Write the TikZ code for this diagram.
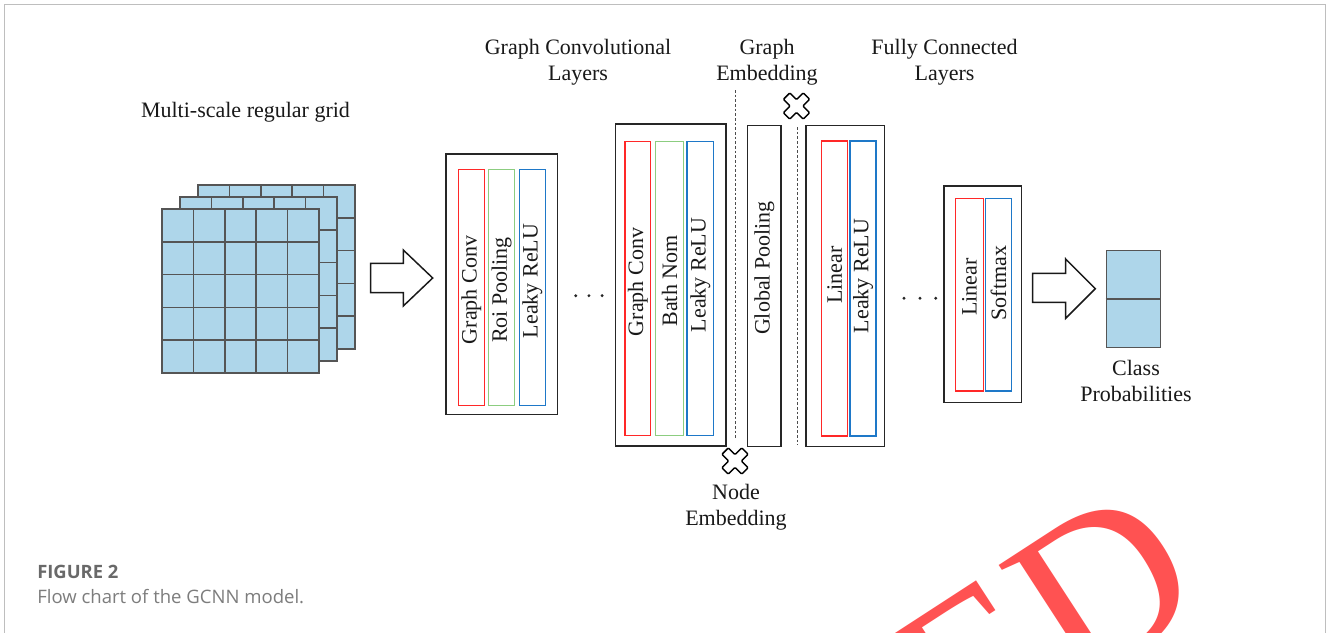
\documentclass[tikz,border=0pt]{standalone}
\usepackage{fontspec}
\setmainfont{Liberation Serif}
\newfontfamily\capfont{Open Sans}
\usetikzlibrary{fit}
\definecolor{gridblue}{RGB}{174,214,234}
\definecolor{gridline}{RGB}{85,85,85}
\definecolor{cred}{RGB}{255,40,40}
\definecolor{cgreen}{RGB}{140,205,128}
\definecolor{cblue}{RGB}{30,120,200}
\definecolor{framegray}{RGB}{190,190,190}
\definecolor{capgray}{RGB}{105,105,105}
\definecolor{capgray2}{RGB}{125,125,125}
\definecolor{wmred}{RGB}{255,82,82}
\tikzset{
  lbl/.style={font=\fontsize{16.5}{19.5}\selectfont, inner sep=0, anchor=base, text=black!90},
  vlbl/.style={font=\fontsize{16.5}{19.5}\selectfont, inner sep=0, rotate=90, text=black!90},
  outerbox/.style={draw=black!85, line width=1.1pt, inner sep=0},
  redbox/.style={draw=cred, line width=1pt, inner sep=0},
  greenbox/.style={draw=cgreen, line width=1pt, inner sep=0},
  bluebox/.style={draw=cblue, line width=1pt, inner sep=0},
  gridstroke/.style={draw=gridline, line width=1.1pt},
  hollowarrow/.style={draw=black!90, line width=1.1pt, fill=white, line join=miter},
  sepline/.style={draw=black!70, line width=0.6pt, dash pattern=on 2pt off 1.5pt},
  dotmark/.style={fill=black!85},
  xmark/.pic={\draw[line width=1.1pt, fill=white, rotate=45, rounded corners=0.8pt]
     (4.5,4.5) -- (4.5,14) -- (-4.5,14) -- (-4.5,4.5) -- (-14,4.5) -- (-14,-4.5) -- (-4.5,-4.5)
     -- (-4.5,-14) -- (4.5,-14) -- (4.5,-4.5) -- (14,-4.5) -- (14,4.5) -- cycle;}
}
\begin{document}
\begin{tikzpicture}[x=0.75pt,y=-0.75pt]
\useasboundingbox (0,0) rectangle (1330,632);
\clip (0,0) rectangle (1330,632);
\fill[white] (0,0) rectangle (1330,632);

% frame
\draw[framegray, line width=1.1pt] (4.5,640) -- (4.5,4.5) -- (1325.5,4.5) -- (1325.5,640);

% watermark
\node[text=wmred, font=\fontsize{170}{170}\selectfont, rotate=33, anchor=north east, inner sep=0] (wm) at (1131,480) {ED};

% multi-scale grid
\foreach \ox/\oy in {198/185, 180/197, 162/209} {
  \begin{scope}
  \draw[gridstroke, fill=gridblue] (\ox,\oy) rectangle ++(157,164);
  \foreach \i in {1,...,4} {
    \draw[gridstroke] (\ox+\i*31.4,\oy) -- ++(0,164);
    \draw[gridstroke] (\ox,\oy+\i*32.8) -- ++(157,0);
  }
  \end{scope}
}
\node[lbl] (gridlbl) at (245.5,117) {Multi-scale regular grid};

% arrow 1
\draw[hollowarrow] (370.7,263.3) -- (403.3,263.3) -- (403.3,250) -- (432.7,278) -- (403.3,306) -- (403.3,292.7) -- (370.7,292.7) -- cycle;

% box 1
\node[outerbox, fit={(446,154) (557.7,414.3)}] (b1) {};
\node[redbox, fit={(458.3,169.3) (484.3,405.7)}] (b1r) {};
\node[greenbox, fit={(488.7,169.3) (514.7,405.7)}] (b1g) {};
\node[bluebox, fit={(519.3,169.3) (545.3,405.7)}] (b1b) {};
\node[vlbl] (t11) at (471.3,290) {Graph Conv};
\node[vlbl] (t12) at (501.7,290) {Roi Pooling};
\node[vlbl] (t13) at (532.3,281) {Leaky ReLU};

% dots 1
\foreach \dx in {575.7,588.9,602.1} \fill[dotmark] (\dx,295.7) circle (1.6);

% box 2
\node[outerbox, fit={(615.7,124) (726,446)}] (b2) {};
\node[redbox, fit={(625,141.7) (650.7,435.7)}] (b2r) {};
\node[greenbox, fit={(655.7,141.7) (683.3,435.7)}] (b2g) {};
\node[bluebox, fit={(687,141.7) (713.7,435.7)}] (b2b) {};
\node[vlbl] (t21) at (637.9,282) {Graph Conv};
\node[vlbl] (t22) at (669.5,281) {Bath Nom};
\node[vlbl] (t23) at (700.3,275) {Leaky ReLU};

% separators
\coordinate (s1a) at (735,90);
\coordinate (s1b) at (735,438);
\draw[sepline] (s1a) -- (s1b);
\coordinate (s2a) at (797.7,127);
\coordinate (s2b) at (797.7,445);
\draw[sepline] (s2a) -- (s2b);

% global pooling
\node[outerbox, fit={(747.7,125.7) (781,446.7)}] (gp) {};
\node[vlbl] (tgp) at (764.3,268) {Global Pooling};

% FC 1
\node[outerbox, fit={(806,125.7) (884.3,446.7)}] (f1) {};
\node[redbox, fit={(821.7,141) (847.7,436)}] (f1r) {};
\node[bluebox, fit={(850,141) (876,436)}] (f1b) {};
\node[vlbl] (tf11) at (834.7,275) {Linear};
\node[vlbl] (tf12) at (863,276) {Leaky ReLU};

% dots 2
\foreach \dx in {904,920,935.7} \fill[dotmark] (\dx,298.3) circle (1.6);

% FC 2
\node[outerbox, fit={(944,186) (1021.7,402.7)}] (f2) {};
\node[redbox, fit={(955.7,198.7) (983.3,391)}] (f2r) {};
\node[bluebox, fit={(985.7,198.7) (1011.3,391)}] (f2b) {};
\node[vlbl] (tf21) at (969.5,287) {Linear};
\node[vlbl] (tf22) at (998.5,283) {Softmax};

% arrow 2
\draw[hollowarrow] (1032.7,273.3) -- (1065.7,273.3) -- (1065.7,259) -- (1095.3,288.7) -- (1065.7,318.3) -- (1065.7,302.3) -- (1032.7,302.3) -- cycle;

% class probabilities
\node[gridstroke, fill=gridblue, inner sep=0, fit={(1106.3,250.7) (1160.3,347.7)}] (cp) {};
\draw[gridstroke] (cp.west) -- (cp.east);
\node[lbl] (cpl1) at (1136,375) {Class};
\node[lbl] (cpl2) at (1136,401) {Probabilities};

% crosses
\pic (x1) at (796.5,106) {xmark};
\pic (x2) at (735,461) {xmark};

% headings
\node[lbl] (h1a) at (578,54) {Graph Convolutional};
\node[lbl] (h1b) at (578,80) {Layers};
\node[lbl] (h2a) at (767,54) {Graph};
\node[lbl] (h2b) at (767,80) {Embedding};
\node[lbl] (h3a) at (944.5,54) {Fully Connected};
\node[lbl] (h3b) at (944.5,80) {Layers};
\node[lbl] (ne1) at (736,499) {Node};
\node[lbl] (ne2) at (736,525) {Embedding};

% caption
\node[anchor=base west, inner sep=0, text=capgray, font=\capfont\bfseries\fontsize{13.8}{16}\selectfont] (fig) at (37,578) {FIGURE 2};
\node[anchor=base west, inner sep=0, text=capgray2, font=\capfont\fontsize{13.9}{16}\selectfont] (cap) at (37,603) {Flow chart of the GCNN model.};
\end{tikzpicture}
\end{document}
